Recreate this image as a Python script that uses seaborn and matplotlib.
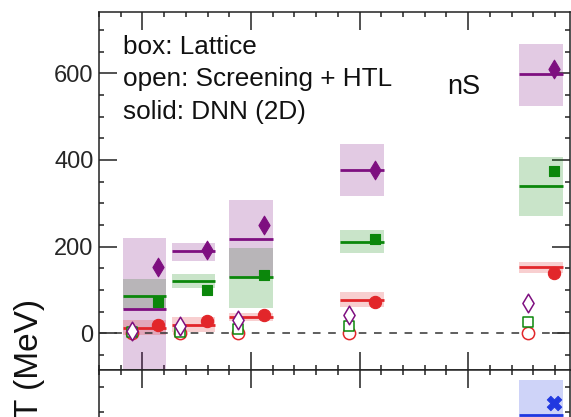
import matplotlib
matplotlib.use("Agg")
import matplotlib.pyplot as plt
import numpy as np
import seaborn as sns

# ---- data (MeV) ------------------------------------------------------------
# position of each state along the x axis
state_x = [1.02, 1.47, 2.00, 3.02, 4.67]

# lattice: central value and band edges for the three temperatures
lat_red = [13, 18, 38, 76, 152]
lat_red_lo = [-4, 4, 29, 60, 140]
lat_red_hi = [31, 37, 46, 95, 165]

lat_green = [87, 121, 129, 211, 340]
lat_green_lo = [55, 105, 58, 185, 271]
lat_green_hi = [125, 137, 197, 238, 408]

lat_purple = [55, 190, 217, 378, 598]
lat_purple_lo = [-109, 168, 127, 318, 524]
lat_purple_hi = [219, 208, 307, 438, 668]

# screening + HTL (open symbols)
htl_red = [0, 0, 0, 1, 0]
htl_green = [2, 4, 10, 16, 25]
htl_purple = [5, 17, 31, 42, 71]

# DNN (2D) (solid symbols)
dnn_red = [19, 29, 42, 73, 140]
dnn_green = [73, 100, 135, 218, 375]
dnn_purple = [154, 192, 250, 378, 610]

# lower panel: nS width at the highest temperature
width_x = [4.67]
width_lat = [93]
width_lat_lo = [23]
width_lat_hi = [163]
width_dnn = [117]

legend_lines = ["box: Lattice", "open: Screening + HTL", "solid: DNN (2D)"]

# ---- style -------------------------------------------------------------------
sns.set_theme(style="ticks")
plt.rcParams["font.family"] = ["Liberation Sans", "DejaVu Sans"]
plt.rcParams["axes.linewidth"] = 1.1
plt.rcParams["axes.edgecolor"] = "#222222"

RED = "#e2262a"
GREEN = "#0b870b"
PURPLE = "#7e0f80"
BLUE = "#2038e0"

W, H = 571, 417
fig = plt.figure(figsize=(W / 100, H / 100), dpi=100)


def px_axes(left, top, right, bottom):
    return fig.add_axes([left / W, 1 - bottom / H, (right - left) / W, (bottom - top) / H])


ax = px_axes(99, 11.7, 570, 370)
axb = px_axes(99, 370, 570, 560)

half = 0.2      # half width of a lattice box
shift = 0.12    # offset of open / solid symbols inside a box


def lattice(axis, xs, c, lo, hi, color):
    for x, cv, l, h in zip(xs, c, lo, hi):
        axis.fill_between([x - half, x + half], l, h, color=color, alpha=0.22,
                          lw=0, zorder=1)
    axis.hlines(c, [x - half for x in xs], [x + half for x in xs],
                color=color, lw=2.0, zorder=2)


lattice(ax, state_x, lat_green, lat_green_lo, lat_green_hi, GREEN)
lattice(ax, state_x, lat_purple, lat_purple_lo, lat_purple_hi, PURPLE)
lattice(ax, state_x, lat_red, lat_red_lo, lat_red_hi, RED)

ax.axhline(0, color="#333333", lw=1.1, ls=(0, (5, 5)), zorder=1.5)

x_open = [x - shift for x in state_x]
x_solid = [x + shift for x in state_x]

sns.scatterplot(x=x_open, y=htl_red, marker="o", s=78, color="white",
                edgecolor=RED, linewidth=1.1, ax=ax, zorder=4)
sns.scatterplot(x=x_open, y=htl_green, marker="s", s=62, color="white",
                edgecolor=GREEN, linewidth=1.1, ax=ax, zorder=4)
sns.scatterplot(x=x_open, y=htl_purple, marker="d", s=90, color="white",
                edgecolor=PURPLE, linewidth=1.1, ax=ax, zorder=4)

sns.scatterplot(x=x_solid, y=dnn_red, marker="o", s=78, color=RED,
                edgecolor=RED, linewidth=0.8, ax=ax, zorder=4)
sns.scatterplot(x=x_solid, y=dnn_green, marker="s", s=62, color=GREEN,
                edgecolor=GREEN, linewidth=0.8, ax=ax, zorder=4)
sns.scatterplot(x=x_solid, y=dnn_purple, marker="d", s=90, color=PURPLE,
                edgecolor=PURPLE, linewidth=0.8, ax=ax, zorder=4)

# lower panel
lattice(axb, width_x, width_lat, width_lat_lo, width_lat_hi, BLUE)
sns.scatterplot(x=[x + shift for x in width_x], y=width_dnn, marker="X", s=110,
                color=BLUE, edgecolor=BLUE, linewidth=0.6, ax=axb, zorder=4)

# ---- axes ----------------------------------------------------------------------
xlim = (1 - 43 / 108.7, 1 + 471 / 108.7 - 43 / 108.7)
for a in (ax, axb):
    a.set_xlim(*xlim)
    a.set_xticks([1, 2, 3, 4])
    a.set_xticks(np.arange(0.6, 5.0, 0.2), minor=True)
    a.tick_params(which="both", direction="in", top=True, right=True,
                  bottom=True, left=True, width=1.1, color="#222222",
                  labelbottom=False, labeltop=False, labelright=False)
    a.tick_params(which="major", length=13)
    a.tick_params(which="minor", length=3.8)
    a.set_xlabel("")
    a.set_ylabel("")

ax.set_ylim(-84.7, 742.2)
ax.set_yticks([0, 200, 400, 600])
ax.set_yticks(np.arange(-50, 750, 50), minor=True)
ax.tick_params(axis="y", labelsize=17, pad=4, labelleft=True)

axb.set_ylim(-196.6, 183.4)
axb.set_yticks([0])
axb.set_yticks(np.arange(-150, 200, 50), minor=True)
axb.tick_params(axis="y", labelleft=False)

# ---- text ------------------------------------------------------------------------
def at_px(x, y):
    return x / W, 1 - y / H


for text, base in zip(legend_lines, [53.5, 86, 119]):
    fig.text(*at_px(123, base), text, fontsize=18.8, ha="left", va="baseline",
             color="#111111")

fig.text(*at_px(447, 93.5), "nS", fontsize=19.5, ha="left", va="baseline",
         color="#111111")

fig.text(*at_px(38.5, 299), "T (MeV)", fontsize=24, rotation=90,
         rotation_mode="anchor", ha="right", va="baseline", color="#111111")

fig.savefig("out.png", dpi=100)
